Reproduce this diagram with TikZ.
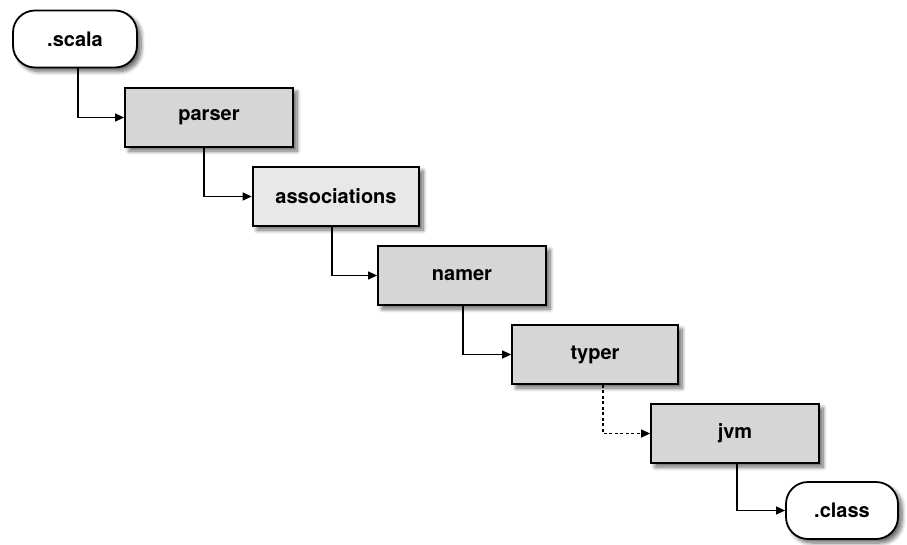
\documentclass[tikz,border=0pt]{standalone}
\usepackage{fontspec}
\setmainfont{TeX Gyre Heros}
\usetikzlibrary{shadows.blur,arrows.meta}
\begin{document}
\begin{tikzpicture}[x=1pt,y=-1pt,
  shade/.style={blur shadow={shadow xshift=4pt,shadow yshift=-4pt,shadow blur radius=4pt,shadow blur steps=8,shadow opacity=60}},
  phase/.style={draw=black,line width=1.8pt,fill=black!16,minimum width=168pt,minimum height=59pt,
    font=\bfseries\fontsize{20}{24}\selectfont,shade},
  hiphase/.style={phase,fill=black!9,line width=2.6pt},
  io/.style={draw=black,line width=1.8pt,fill=white,rounded corners=22pt,minimum height=57pt,
    font=\bfseries\fontsize{20}{24}\selectfont,shade},
  flow/.style={line width=1.3pt,-{Triangle[length=9pt,width=8pt]}},
  every node/.style={inner sep=0pt}]
\useasboundingbox (0,0) rectangle (907,545);
\node[io,minimum width=124pt] (scala) at (75,39) {.scala};
\node[phase] (parser) at (209,117.5) {parser};
\node[hiphase,minimum width=166pt] (assoc) at (336,196.5) {associations};
\node[phase] (namer) at (462,275.5) {namer};
\node[phase,minimum width=166pt] (typer) at (595,354.5) {typer};
\node[phase] (jvm) at (735,433.5) {jvm};
\node[io,minimum width=112pt] (class) at (842,510.5) {.class};
\draw[flow] ([xshift=3pt]scala.south) |- (parser.west);
\draw[flow] ([xshift=-5pt]parser.south) |- (assoc.west);
\draw[flow] ([xshift=-4pt]assoc.south) |- (namer.west);
\draw[flow] ([xshift=1pt]namer.south) |- (typer.west);
\draw[flow,dash pattern=on 3pt off 2.5pt] ([xshift=8pt]typer.south) |- (jvm.west);
\draw[flow] ([xshift=2pt]jvm.south) |- (class.west);
\end{tikzpicture}
\end{document}
